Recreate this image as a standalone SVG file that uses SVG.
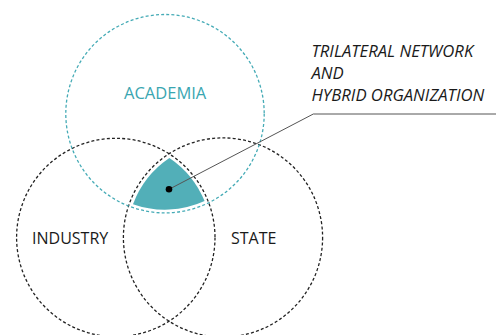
<svg xmlns="http://www.w3.org/2000/svg" width="496" height="335" viewBox="0 0 496 335">
<style>
.circ{fill:none;stroke-width:1.3;stroke-dasharray:3 2.2}
.blk{stroke:#222}
.teal{stroke:#45abb6}
.lbl{font-family:"Open Sans","Liberation Sans",sans-serif;font-size:16px;fill:#1a1a1a}
.note{font-family:"Open Sans","Liberation Sans",sans-serif;font-size:16.7px;font-style:italic;fill:#1a1a1a}
</style>
<rect width="496" height="335" fill="#fff"/>
<g id="hybrid">
<path d="M169.4,157.9 A96,96 0 0 1 204.6,201.1 A96,96 0 0 1 133,204.2 A96,96 0 0 1 169.4,157.9 Z" fill="#52afb8"/>
</g>
<g id="industry">
<circle class="circ blk" cx="115.8" cy="237.5" r="99.2"/>
<text class="lbl" x="32" y="243.5">INDUSTRY</text>
</g>
<g id="state">
<circle class="circ blk" cx="223" cy="237.5" r="99.6"/>
<text class="lbl" x="231" y="243.5">STATE</text>
</g>
<g id="academia">
<circle class="circ teal" cx="165" cy="113.7" r="99.2"/>
<text class="lbl" x="124" y="98.5" style="fill:#3aa6b1;font-size:16.5px">ACADEMIA</text>
</g>
<g id="connectors">
<polyline points="169,189.3 313.3,114 496,114" fill="none" stroke="#555" stroke-width="1"/>
<circle cx="169" cy="189.3" r="3.3" fill="#000"/>
</g>
<g id="note">
<text class="note" x="311.5" y="57.3">TRILATERAL NETWORK</text>
<text class="note" x="311.5" y="79">AND</text>
<text class="note" x="311.5" y="100.7">HYBRID ORGANIZATION</text>
</g>
</svg>
